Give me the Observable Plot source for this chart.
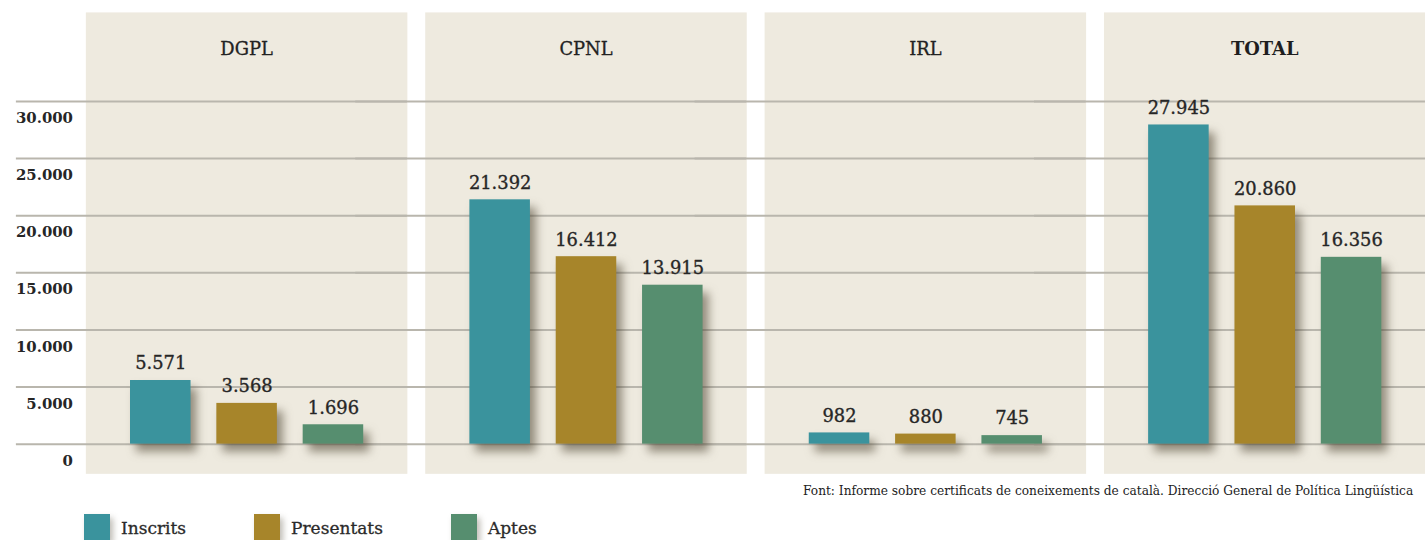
<!DOCTYPE html>
<html>
<head>
<meta charset="utf-8">
<script src="https://cdn.jsdelivr.net/npm/d3@7"></script>
<script src="https://cdn.jsdelivr.net/npm/@observablehq/plot@0.6"></script>
<style>
  body { margin: 0; background: #ffffff; }
  #wrap { position: relative; width: 1425px; height: 540px; overflow: hidden; background: #fff; }
  #chart { position: absolute; left: 0; top: 0; }
  #chart g[aria-label="bar"] rect { filter: drop-shadow(6px 8px 5px rgba(70, 60, 40, 0.55)); }
  #legend { position: absolute; left: 84px; top: 514px; display: flex; align-items: flex-start;
            font-family: "DejaVu Serif", serif; font-size: 17px; color: #2a2a2a; -webkit-text-stroke: 0.3px #2a2a2a; }
  #legend .item { display: flex; align-items: flex-start; margin-right: 68px; }
  #legend .sw { width: 26px; height: 26px; margin-right: 11px; filter: drop-shadow(3px 4px 3px rgba(70,60,40,0.35)); }
  #legend .lbl { line-height: 20px; padding-top: 4px; }
  #source { position: absolute; left: 803px; top: 484px; white-space: nowrap;
            font-family: "DejaVu Serif", serif;
            font-size: 12.2px; color: #222; }
</style>
</head>
<body>
<div id="wrap">
  <div id="chart"></div>
  <div id="source"></div>
  <div id="legend"></div>
</div>
<script>
const panels = ["DGPL", "CPNL", "IRL", "TOTAL"];
const series = ["Inscrits", "Presentats", "Aptes"];
const inscrits = [5571, 21392, 982, 27945];
const presentats = [3568, 16412, 880, 20860];
const aptes = [1696, 13915, 745, 16356];
const yTicks = [0, 5000, 10000, 15000, 20000, 25000, 30000];
const colors = ["#3a939d", "#a7852a", "#568e6f"];
const sourceText = "Font: Informe sobre certificats de coneixements de català. Direcció General de Política Lingüística";

const valuesBySeries = [inscrits, presentats, aptes];
const rows = [];
panels.forEach((p, i) => {
  series.forEach((s, j) => rows.push({panel: p, series: s, value: valuesBySeries[j][i]}));
});

const fmt = d3.formatLocale({decimal: ",", thousands: ".", grouping: [3], currency: ["", " €"]}).format(",d");

const chart = Plot.plot({
  width: 1436,
  height: 480,
  marginTop: 12,
  marginBottom: 3,
  marginLeft: 85,
  marginRight: 0,
  style: {fontFamily: "DejaVu Serif, serif", background: "transparent", color: "#262626", overflow: "visible"},
  fx: {domain: panels, paddingInner: 0.054, paddingOuter: 0, axis: null, label: null},
  x: {domain: series, paddingInner: 0.3, paddingOuter: 0.5, axis: null, label: null},
  y: {domain: [-2600, 37800], axis: null, label: null},
  color: {domain: series, range: colors},
  marks: [
    Plot.frame({fill: "#eeeadf", stroke: null}),
    Plot.ruleY(yTicks, {insetLeft: -70, stroke: "#b9b6ad", strokeWidth: 2}),
    Plot.barY(rows, {fx: "panel", x: "series", y: "value", fill: "series"}),
    Plot.text(rows, {fx: "panel", x: "series", y: "value", text: d => fmt(d.value), dy: -17, fontSize: 18, fill: "#262626", stroke: "#262626", strokeWidth: 0.35, lineAnchor: "middle"}),
    Plot.text(panels.filter(p => p !== "TOTAL"), {fx: d => d, text: d => d, frameAnchor: "top", dy: 30, fontSize: 18, fill: "#222", stroke: "#222", strokeWidth: 0.3}),
    Plot.text(panels.filter(p => p === "TOTAL"), {fx: d => d, text: d => d, frameAnchor: "top", dy: 30, fontSize: 18, fontWeight: "bold", fill: "#1e1e1e"}),
    Plot.axisY({ticks: yTicks, tickSize: 0, tickPadding: 13, dy: 17, tickFormat: fmt, fontSize: 15, fontWeight: "bold", fill: "#262626", label: null})
  ]
});
document.getElementById("chart").appendChild(chart);

document.getElementById("source").textContent = sourceText;

const legend = document.getElementById("legend");
series.forEach((s, j) => {
  const item = document.createElement("div");
  item.className = "item";
  const sw = document.createElement("div");
  sw.className = "sw";
  sw.style.background = colors[j];
  const lbl = document.createElement("div");
  lbl.className = "lbl";
  lbl.textContent = s;
  item.appendChild(sw);
  item.appendChild(lbl);
  legend.appendChild(item);
});
</script>
</body>
</html>
